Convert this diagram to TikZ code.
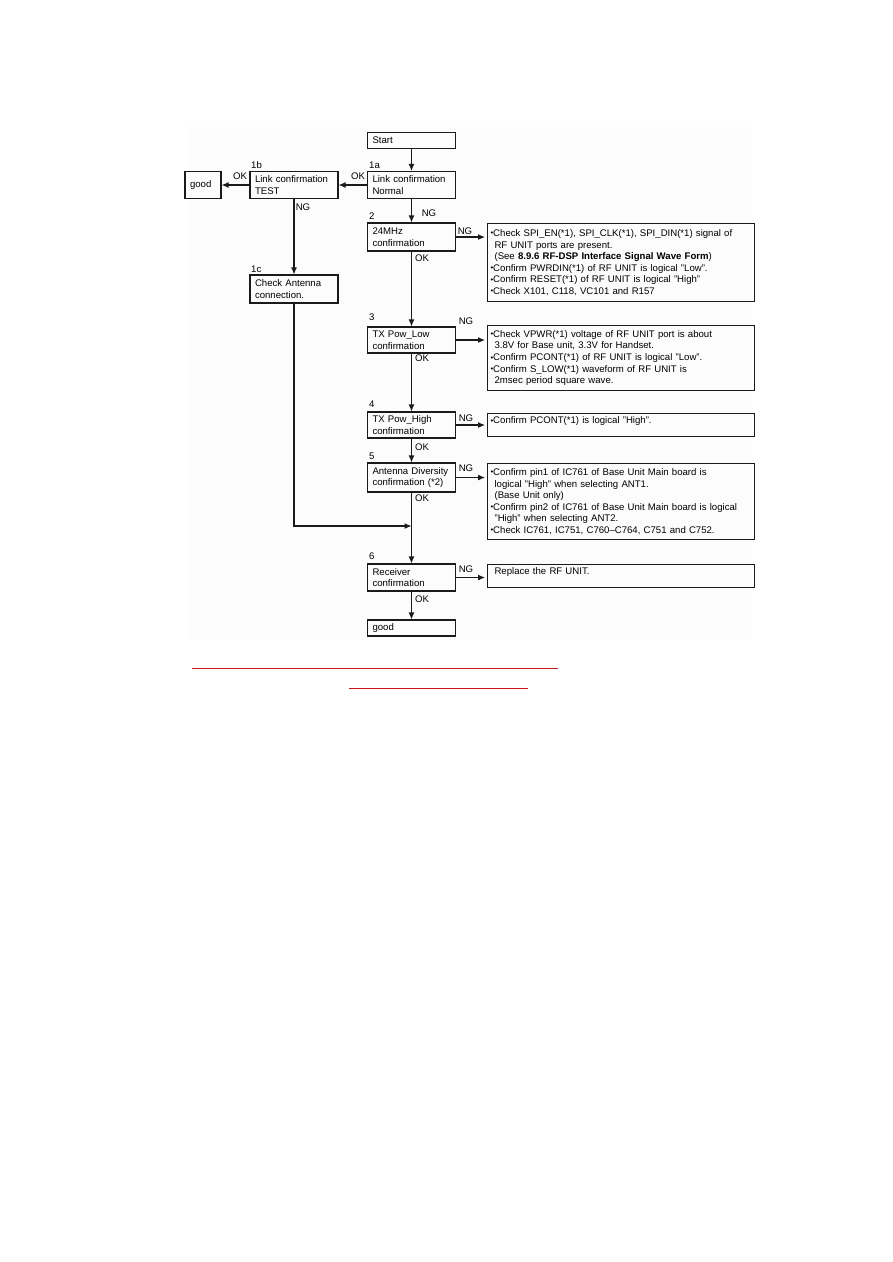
\documentclass[tikz,border=0pt]{standalone}
\usepackage{fontspec}
\setmainfont{Liberation Sans}
\usetikzlibrary{arrows.meta,positioning}
\definecolor{ink}{HTML}{1A1A1A}
\definecolor{linkred}{HTML}{C41818}
\definecolor{paper}{HTML}{FCFCFC}
\newcommand{\dotitem}{\raisebox{0.5pt}{\scalebox{0.8}{\textbullet}}}
\newcommand{\cont}{\hspace*{4pt}}

\begin{document}
\begin{tikzpicture}[
  x=1pt, y=-1pt,
  >=Latex,
  stepbox/.style={draw=ink, line width=1.1pt, text width=78pt, inner xsep=5pt, inner ysep=2pt, align=left, font=\fontsize{9.6}{11.6}\selectfont},
  notebox/.style={draw=ink, line width=1.1pt, text width=261pt, inner xsep=3pt, inner ysep=3pt, anchor=north west, align=left, font=\fontsize{9.6}{11.6}\selectfont},
  tag/.style={font=\fontsize{9.6}{11.6}\selectfont, inner sep=0pt},
  arr/.style={-{Latex[length=7pt,width=6pt]}, line width=1.1pt, color=ink},
]
\useasboundingbox (0,0) rectangle (893,1262);
\fill[paper] (188,127) rectangle (752,640);

% main column
\node[stepbox, minimum height=16pt] (start) at (411.5,140.5) {Start};
\node[stepbox, minimum height=27pt] (normal) at (411.5,185) {Link confirmation\\Normal};
\node[stepbox, minimum height=28pt] (clock) at (411.5,237) {24MHz\\confirmation};
\node[stepbox, minimum height=26pt] (txlow) at (411.5,340) {TX Pow\_Low\\confirmation};
\node[stepbox, minimum height=26pt] (txhigh) at (411.5,425) {TX Pow\_High\\confirmation};
\node[stepbox, minimum height=29pt] (diversity) at (411.5,477.5) {Antenna Diversity\\confirmation (*2)};
\node[stepbox, minimum height=27pt] (receiver) at (411.5,577.5) {Receiver\\confirmation};
\node[stepbox, minimum height=16pt] (goodB) at (411.5,628) {good};

% left branch
\node[stepbox, minimum height=27pt] (test) at (294,185) {Link confirmation\\TEST};
\node[stepbox, text width=26pt, minimum height=27pt] (goodA) at (203,185) {good};
\node[stepbox, minimum height=28pt] (antenna) at (294,289) {Check Antenna\\connection.};

% notes
\node[notebox, minimum height=78pt] (noteclock) at (487,223) {\dotitem Check SPI\_EN(*1), SPI\_CLK(*1), SPI\_DIN(*1) signal of\\\cont RF UNIT ports are present.\\\cont (See \textbf{8.9.6 RF-DSP Interface Signal Wave Form})\\\dotitem Confirm PWRDIN(*1) of RF UNIT is logical "Low".\\\dotitem Confirm RESET(*1) of RF UNIT is logical "High"\\\dotitem Check X101, C118, VC101 and R157};
\node[notebox, minimum height=65pt] (notelow) at (487,325) {\dotitem Check VPWR(*1) voltage of RF UNIT port is about\\\cont 3.8V for Base unit, 3.3V for Handset.\\\dotitem Confirm PCONT(*1) of RF UNIT is logical "Low".\\\dotitem Confirm S\_LOW(*1) waveform of RF UNIT is\\\cont 2msec period square wave.};
\node[notebox, text depth=10pt] (notehigh) at (487,413) {\dotitem Confirm PCONT(*1) is logical "High".};
\node[notebox, minimum height=76pt] (notediv) at (487,463) {\dotitem Confirm pin1 of IC761 of Base Unit Main board is\\\cont logical "High" when selecting ANT1.\\\cont (Base Unit only)\\\dotitem Confirm pin2 of IC761 of Base Unit Main board is logical\\\cont "High" when selecting ANT2.\\\dotitem Check IC761, IC751, C760--C764, C751 and C752.};
\node[notebox, text depth=10pt] (noterecv) at (487,564) {\cont Replace the RF UNIT.};

% step numbers
\node[tag, anchor=west] (n1a) at (369,165) {1a};
\node[tag, anchor=west] (n1b) at (251,165) {1b};
\node[tag, anchor=west] (n1c) at (251,269) {1c};
\node[tag, anchor=west] (n2) at (369,216) {2};
\node[tag, anchor=west] (n3) at (369,317) {3};
\node[tag, anchor=west] (n4) at (369,404) {4};
\node[tag, anchor=west] (n5) at (369,456) {5};
\node[tag, anchor=west] (n6) at (369,556) {6};

% OK / NG
\node[tag] (okA) at (358,176) {OK};
\node[tag] (okB) at (240,176) {OK};
\node[tag] (ngB) at (303,207) {NG};
\node[tag] (ngA) at (429,213) {NG};
\node[tag] (ng2) at (465,231) {NG};
\node[tag] (ok2) at (422,258) {OK};
\node[tag] (ng3) at (466,321) {NG};
\node[tag] (ok3) at (422,358) {OK};
\node[tag] (ng4) at (466,418) {NG};
\node[tag] (ok4) at (422,447) {OK};
\node[tag] (ng5) at (466,468) {NG};
\node[tag] (ok5) at (422,498) {OK};
\node[tag] (ng6) at (466,569) {NG};
\node[tag] (ok6) at (422,599) {OK};

\coordinate (merge) at (411.5,526);

\draw[arr] (start) -- (normal);
\draw[arr] (normal) -- (test);
\draw[arr] (test) -- (goodA);
\draw[arr] (test) -- (antenna);
\draw[arr] (normal) -- (clock);
\draw[arr] (clock) -- (txlow);
\draw[arr] (txlow) -- (txhigh);
\draw[arr] (txhigh) -- (diversity);
\draw[arr] (diversity) -- (receiver);
\draw[arr] (receiver) -- (goodB);
\draw[arr] (antenna) |- (merge);

\draw[arr, shorten >=2pt] (clock.east) -- (clock.east -| noteclock.west);
\draw[arr, shorten >=2pt] (txlow.east) -- (txlow.east -| notelow.west);
\draw[arr, shorten >=2pt] (txhigh.east) -- (txhigh.east -| notehigh.west);
\draw[arr, shorten >=2pt] (diversity.east) -- (diversity.east -| notediv.west);
\draw[arr, shorten >=2pt] (receiver.east) -- (receiver.east -| noterecv.west);

% red underlines
\draw[linkred, line width=0.9pt] (192,668) -- (558,668);
\draw[linkred, line width=0.9pt] (349,688) -- (528,688);

\end{tikzpicture}
\end{document}
